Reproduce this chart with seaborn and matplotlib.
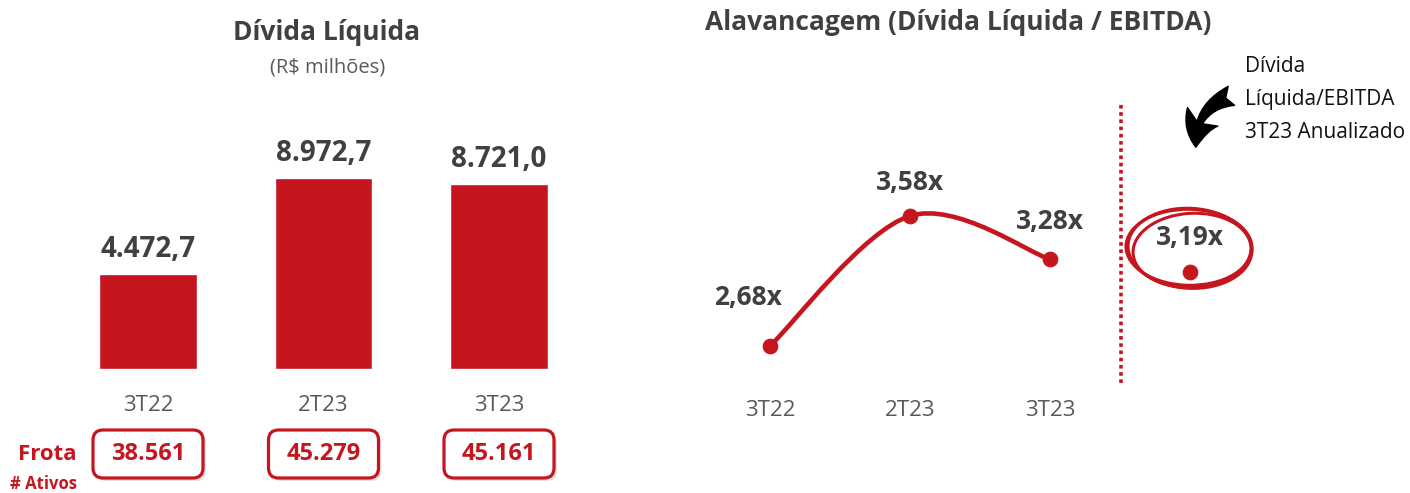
import numpy as np
import pandas as pd
import matplotlib
matplotlib.use('Agg')
import matplotlib.pyplot as plt
import matplotlib.transforms as mtransforms
from matplotlib.patches import FancyBboxPatch, Ellipse, FancyArrowPatch, PathPatch
from matplotlib.path import Path
import seaborn as sns

periods = ['3T22', '2T23', '3T23']
divida = [4472.7, 8972.7, 8721.0]
divida_labels = ['4.472,7', '8.972,7', '8.721,0']
frota = ['38.561', '45.279', '45.161']
alav = [2.68, 3.58, 3.28]
alav_labels = ['2,68x', '3,58x', '3,28x']
alav_anual = 3.19
alav_anual_label = '3,19x'

RED = '#C5161F'
DARK = '#404040'
GRAY = '#595959'
W, H = 1410, 493

sns.set_style('white')
plt.rcParams['font.family'] = ['Open Sans', 'DejaVu Sans']

fig = plt.figure(figsize=(W / 100, H / 100), dpi=100)
ident = mtransforms.IdentityTransform()


def px_box(l, t, r, b):
    # pixel box (from top-left) -> figure fraction rect
    return [l / W, 1 - b / H, (r - l) / W, (b - t) / H]


# ---- left: Dívida Líquida bars ----
ax1 = fig.add_axes(px_box(60.25, 100, 586.75, 369))
df1 = pd.DataFrame({'periodo': periods, 'divida': divida})
sns.barplot(data=df1, x='periodo', y='divida', color=RED, saturation=1,
            width=0.553, ax=ax1)
ax1.set_xlim(-0.5, 2.5)
ax1.set_ylim(0, 12650)
for i, (v, lab) in enumerate(zip(divida, divida_labels)):
    ax1.annotate(lab, (i, v), xytext=(0, 7), textcoords='offset points',
                 ha='center', va='bottom', fontsize=20, fontweight='bold', color=DARK)
ax1.set_xticks(range(len(periods)))
ax1.set_xticklabels(periods)
ax1.tick_params(axis='x', length=0, pad=19, labelsize=16, labelcolor=GRAY)
ax1.set_yticks([])
ax1.set_xlabel('')
ax1.set_ylabel('')
sns.despine(ax=ax1, left=True, bottom=True)

fig.text(327 / W, 1 - 33 / H, 'Dívida Líquida', ha='center', va='center',
         fontsize=19, fontweight='bold', color=DARK)
fig.text(328 / W, 1 - 68 / H, '(R$ milhões)', ha='center', va='center',
         fontsize=14.5, color=GRAY)

# fleet boxes under each period
for i, val in enumerate(frota):
    cx = ax1.transData.transform((i, 0))[0]
    cy = H - 454
    shadow = FancyBboxPatch((cx - 55 + 3, cy - 24 - 3), 110, 48,
                            boxstyle='round,pad=0,rounding_size=10',
                            transform=ident, fc='#bbbbbb', ec='none', alpha=0.45)
    fig.add_artist(shadow)
    rect = FancyBboxPatch((cx - 55, cy - 24), 110, 48,
                          boxstyle='round,pad=0,rounding_size=10',
                          transform=ident, fc='white', ec=RED, lw=2.3)
    fig.add_artist(rect)
    fig.text(cx / W, cy / H, val, ha='center', va='center', fontsize=17,
             fontweight='bold', color=RED)

fig.text(47 / W, 1 - 455 / H, 'Frota', ha='center', va='center', fontsize=16,
         fontweight='bold', color=RED)
fig.text(44 / W, 1 - 484 / H, '# Ativos', ha='center', va='center', fontsize=12,
         fontweight='bold', color=RED)

# ---- right: Alavancagem line ----
ax2 = fig.add_axes(px_box(700, 100, 1260, 383))
ax2.set_xlim(-0.5, 3.5)
ax2.set_ylim(2.68 - 37 / 144.5, 2.68 + 246 / 144.5)

xs = np.arange(len(alav), dtype=float)
ys = np.array(alav)
n = len(xs)
verts = [(xs[0], ys[0])]
codes = [Path.MOVETO]
for i in range(n - 1):
    p_prev = np.array([xs[max(i - 1, 0)], ys[max(i - 1, 0)]])
    p0 = np.array([xs[i], ys[i]])
    p1 = np.array([xs[i + 1], ys[i + 1]])
    p_next = np.array([xs[min(i + 2, n - 1)], ys[min(i + 2, n - 1)]])
    c1 = p0 + (p1 - p_prev) / 6
    c2 = p1 - (p_next - p0) / 6
    verts += [tuple(c1), tuple(c2), tuple(p1)]
    codes += [Path.CURVE4] * 3
ax2.add_patch(PathPatch(Path(verts, codes), fill=False, ec=RED, lw=3.3,
                        capstyle='round', zorder=2))

df2 = pd.DataFrame({'x': list(xs) + [3.0], 'y': alav + [alav_anual]})
sns.scatterplot(data=df2, x='x', y='y', color=RED, edgecolor=RED, s=110,
                ax=ax2, zorder=3, legend=False)

offsets = [(-16, 35), (0, 24), (0, 27)]
for i, (v, lab) in enumerate(zip(alav, alav_labels)):
    ax2.annotate(lab, (i, v), xytext=offsets[i], textcoords='offset points',
                 ha='center', va='center', fontsize=19, fontweight='bold', color=DARK)
ax2.annotate(alav_anual_label, (3, alav_anual), xytext=(0, 25),
             textcoords='offset points', ha='center', va='center',
             fontsize=19, fontweight='bold', color=DARK)

ax2.axvline(2.51, ymin=0, ymax=0.99, color=RED, lw=2.6, linestyle=(0, (1, 1)))

ax2.set_xticks(range(len(periods)))
ax2.set_xticklabels(periods)
ax2.tick_params(axis='x', length=0, pad=12, labelsize=16, labelcolor=GRAY)
ax2.set_yticks([])
ax2.set_xlabel('')
ax2.set_ylabel('')
sns.despine(ax=ax2, left=True, bottom=True)

# hand-drawn ring around the annualized value
px, py = ax2.transData.transform((3, alav_anual))
for dx, dy, ew, eh, ang in [(0, 24, 124, 80, -3), (2, 22, 118, 74, 3), (-1, 25, 126, 76, -1)]:
    fig.add_artist(Ellipse((px + dx, py + dy), ew, eh, angle=ang, transform=ident,
                           fill=False, ec=RED, lw=2.2))

fig.add_artist(FancyArrowPatch(posA=(1234, H - 95), posB=(1196, H - 150),
                               connectionstyle='arc3,rad=0.4',
                               arrowstyle='fancy,head_length=0.7,head_width=0.8,tail_width=0.45',
                               mutation_scale=32, color='black', transform=ident))
fig.text(1245 / W, 1 - 56 / H, 'Dívida\nLíquida/EBITDA\n3T23 Anualizado',
         ha='left', va='top', fontsize=15, color='#111111', linespacing=1.75)

fig.text(958 / W, 1 - 22 / H, 'Alavancagem (Dívida Líquida / EBITDA)',
         ha='center', va='center', fontsize=19, fontweight='bold', color=DARK)

fig.savefig('out.png', dpi=100)
